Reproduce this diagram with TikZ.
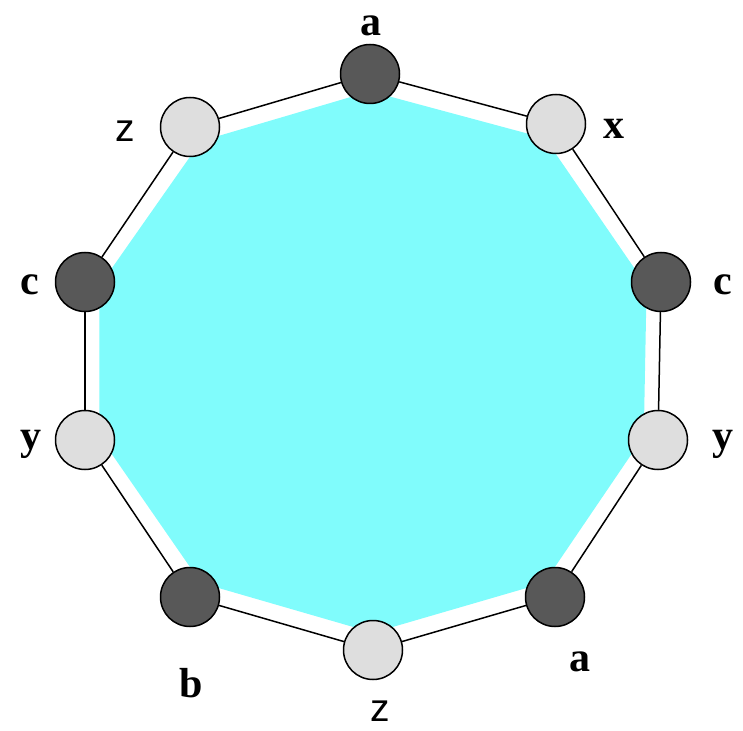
\documentclass[tikz,border=0pt]{standalone}
\usepackage{fontspec}
\setmainfont{Liberation Serif}
\newfontfamily\labsans{Liberation Sans}
\usetikzlibrary{calc}
\definecolor{tilecyan}{RGB}{128,252,252}
\definecolor{darkdot}{RGB}{88,88,88}
\definecolor{lightdot}{RGB}{222,222,222}
\tikzset{
  dot/.style={circle,draw=black,line width=0.75pt,minimum size=29.5pt,inner sep=0pt},
  darkdot/.style={dot,fill=darkdot},
  lightdot/.style={dot,fill=lightdot},
  lab/.style={font=\fontsize{21}{24}\selectfont\bfseries,inner sep=0pt},
  zlab/.style={font=\fontsize{19.5}{22}\selectfont\labsans,inner sep=0pt},
  rim/.style={black,line width=0.75pt}
}
\begin{document}
\begin{tikzpicture}[x=0.5pt,y=-0.5pt]
  \useasboundingbox (0,0) rectangle (743,731);
  % corner positions
  \coordinate (ctr) at (373,362);
  \coordinate (pa1) at (370,74);
  \coordinate (px) at (556,124);
  \coordinate (pc2) at (661,282);
  \coordinate (py2) at (658,440);
  \coordinate (pa2) at (555,597);
  \coordinate (pz2) at (373,650);
  \coordinate (pb) at (190,597);
  \coordinate (py1) at (85,440);
  \coordinate (pc1) at (85,282);
  \coordinate (pz1) at (190,127);
  % shaded face
  \fill[tilecyan] ($(pa1)!0.06!(ctr)$) -- ($(px)!0.06!(ctr)$) -- ($(pc2)!0.05!(ctr)$)
    -- ($(py2)!0.05!(ctr)$) -- ($(pa2)!0.06!(ctr)$) -- ($(pz2)!0.06!(ctr)$)
    -- ($(pb)!0.06!(ctr)$) -- ($(py1)!0.05!(ctr)$) -- ($(pc1)!0.05!(ctr)$)
    -- ($(pz1)!0.06!(ctr)$) -- cycle;
  % vertices
  \node[darkdot] (a1) at (pa1) {};
  \node[lightdot] (x) at (px) {};
  \node[darkdot] (c2) at (pc2) {};
  \node[lightdot] (y2) at (py2) {};
  \node[darkdot] (a2) at (pa2) {};
  \node[lightdot] (z2) at (pz2) {};
  \node[darkdot] (b) at (pb) {};
  \node[lightdot] (y1) at (py1) {};
  \node[darkdot] (c1) at (pc1) {};
  \node[lightdot] (z1) at (pz1) {};
  % boundary
  \draw[rim] (a1) -- (x);
  \draw[rim] (x) -- (c2);
  \draw[rim] (c2) -- (y2);
  \draw[rim] (y2) -- (a2);
  \draw[rim] (a2) -- (z2);
  \draw[rim] (z2) -- (b);
  \draw[rim] (b) -- (y1);
  \draw[rim] (y1) -- (c1);
  \draw[rim] (c1) -- (z1);
  \draw[rim] (z1) -- (a1);
  % labels
  \node[lab] (la1) at (371,26) {a};
  \node[lab] (lx) at (614,129) {x};
  \node[lab] (lc2) at (723,285) {c};
  \node[lab] (ly2) at (723,444) {y};
  \node[lab] (la2) at (580,662) {a};
  \node[zlab] (lz2) at (380,711) {z};
  \node[lab] (lb) at (191,683) {b};
  \node[lab] (ly1) at (31,444) {y};
  \node[lab] (lc1) at (30,285) {c};
  \node[zlab] (lz1) at (125,131) {z};
\end{tikzpicture}
\end{document}
